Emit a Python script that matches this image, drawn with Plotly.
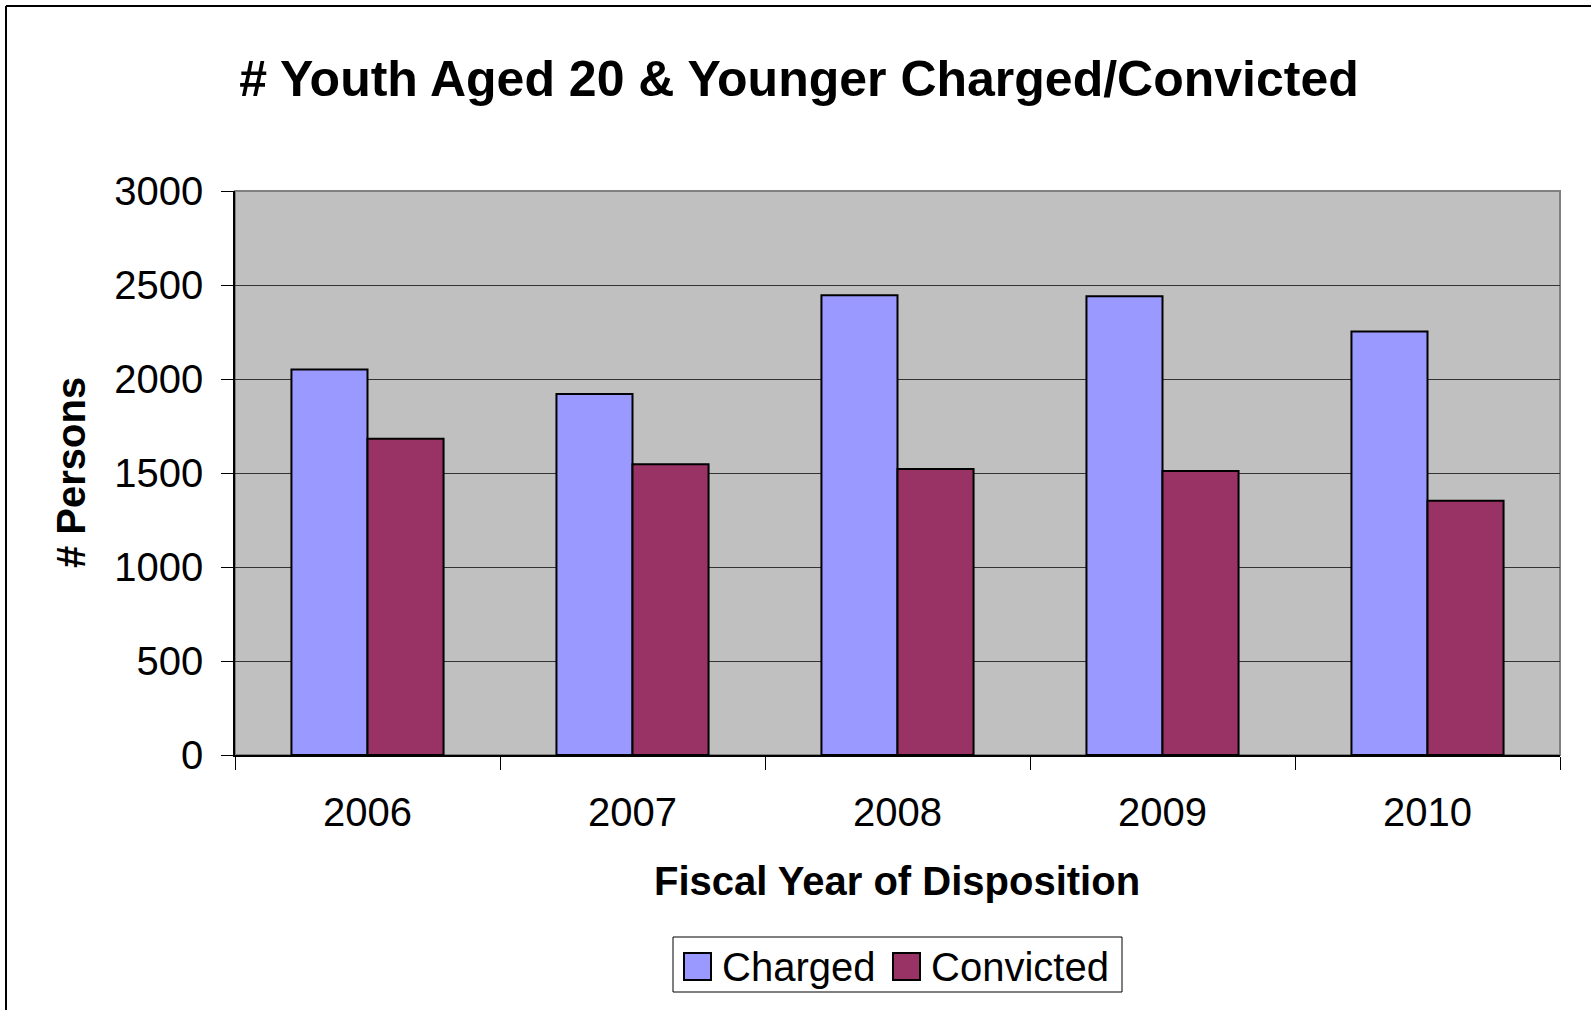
import plotly.graph_objects as go

years = ["2006", "2007", "2008", "2009", "2010"]
series_names = ["Charged", "Convicted"]
charged = [2050, 1920, 2445, 2440, 2252]
convicted = [1682, 1546, 1521, 1511, 1353]
y_ticks = [0, 500, 1000, 1500, 2000, 2500, 3000]

title_text = "# Youth Aged 20 & Younger Charged/Convicted"
x_title = "Fiscal Year of Disposition"
y_title = "# Persons"

colors = ["#9999FF", "#993366"]
FONT = "Liberation Sans, Arial, sans-serif"

W, H = 1591, 1010
L, R, T, B = 235, 1560, 191, 755


def px_x(px):
    return (px - L) / (R - L)


def px_y(py):
    return (B - py) / (B - T)


fig = go.Figure()
for name, vals, col in zip(series_names, [charged, convicted], colors):
    fig.add_trace(go.Bar(
        x=years, y=vals, name=name,
        marker=dict(color=col, line=dict(color="black", width=2)),
        showlegend=False,
    ))

shapes = []
# plot area frame (gray top/right)
shapes.append(dict(type="rect", xref="paper", yref="paper", x0=0, x1=1, y0=0, y1=1,
                   line=dict(color="#808080", width=2), layer="below"))
# outer chart border (top and left)
shapes.append(dict(type="line", xref="paper", yref="paper",
                   x0=px_x(6), x1=px_x(1600), y0=px_y(6), y1=px_y(6),
                   line=dict(color="black", width=2)))
shapes.append(dict(type="line", xref="paper", yref="paper",
                   x0=px_x(6), x1=px_x(6), y0=px_y(6), y1=px_y(1020),
                   line=dict(color="black", width=2)))
# legend box
shapes.append(dict(type="rect", xref="paper", yref="paper",
                   x0=px_x(673), x1=px_x(1122), y0=px_y(937), y1=px_y(992),
                   line=dict(color="black", width=1), fillcolor="white"))
# legend swatches
sw = [(684, 711), (893, 920)]
for (a, b), col in zip(sw, colors):
    shapes.append(dict(type="rect", xref="paper", yref="paper",
                       x0=px_x(a), x1=px_x(b), y0=px_y(953), y1=px_y(980),
                       line=dict(color="black", width=2), fillcolor=col))

annotations = []
text_x = [720, 929]
for tx, name in zip(text_x, series_names):
    annotations.append(dict(xref="paper", yref="paper", x=px_x(tx), y=px_y(967),
                            xanchor="left", yanchor="middle", showarrow=False,
                            text=name, font=dict(family=FONT, size=40, color="black")))
annotations.append(dict(xref="paper", yref="paper", x=px_x(897), y=px_y(881),
                        xanchor="center", yanchor="middle", showarrow=False,
                        text="<b>" + x_title + "</b>",
                        font=dict(family=FONT, size=40, color="black")))
annotations.append(dict(xref="paper", yref="paper", x=px_x(71), y=px_y(473),
                        xanchor="center", yanchor="middle", showarrow=False,
                        textangle=-90, text="<b>" + y_title + "</b>",
                        font=dict(family=FONT, size=40, color="black")))

fig.update_layout(
    width=W, height=H,
    margin=dict(l=L, r=W - R, t=T, b=H - B, pad=0),
    paper_bgcolor="white",
    plot_bgcolor="#C0C0C0",
    barmode="group",
    bargap=0.426,
    bargroupgap=0,
    title=dict(text="<b>" + title_text + "</b>", x=799 / W, y=1 - 78 / H,
               xanchor="center", yanchor="middle",
               font=dict(family=FONT, size=50, color="black")),
    font=dict(family=FONT, size=40, color="black"),
    shapes=shapes,
    annotations=annotations,
    showlegend=False,
)

fig.update_xaxes(
    type="category", showgrid=False, showline=True, linecolor="black", linewidth=1.5,
    ticks="outside", tickson="boundaries", ticklen=13, tickcolor="black", tickwidth=1,
    tickfont=dict(family=FONT, size=40, color="black"), ticklabelstandoff=21,
    automargin=False,
)
fig.update_yaxes(
    range=[0, 3000], tickvals=y_ticks, ticktext=[str(v) for v in y_ticks],
    showgrid=True, gridcolor="#333333", gridwidth=1,
    showline=True, linecolor="black", linewidth=1.5, zeroline=False,
    ticks="outside", ticklen=12, tickcolor="black", tickwidth=1,
    tickfont=dict(family=FONT, size=40, color="black"), ticklabelstandoff=10,
    automargin=False,
)

fig.write_html("out.html", config={"displayModeBar": False},
               post_script="document.body.style.margin='0';document.body.style.overflow='hidden';")
